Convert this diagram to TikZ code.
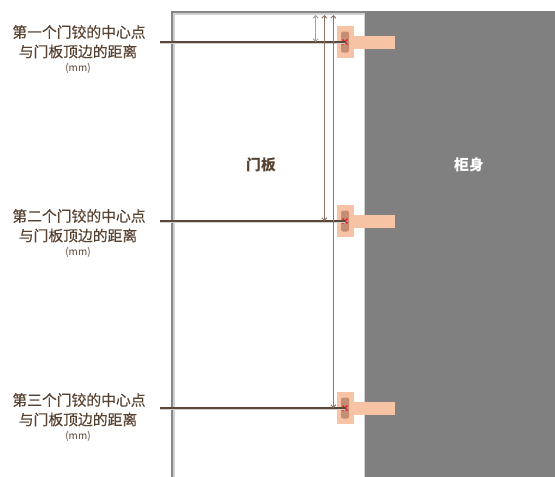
\documentclass[tikz,border=0pt]{standalone}
\usepackage{fontspec}
\setmainfont{Noto Sans CJK SC}
\newfontfamily\lblfont[FakeBold=0.3]{Noto Sans CJK SC}
\usetikzlibrary{arrows.meta}
\definecolor{txt}{HTML}{584332}
\definecolor{cab}{HTML}{808080}
\definecolor{doorgray}{HTML}{868686}
\definecolor{lightgray2}{HTML}{D0D0D0}
\definecolor{peach}{HTML}{F6C4A4}
\definecolor{peachdark}{HTML}{C58E74}
\definecolor{hlbrown}{HTML}{5B4638}
\definecolor{dimbrown}{HTML}{8B7366}
\definecolor{dimlight}{HTML}{ABA098}
\definecolor{redx}{HTML}{E01E1E}
\tikzset{
  lbl/.style={text=txt, inner sep=0pt, font=\lblfont\fontsize{14.8}{16}\selectfont},
  mmlbl/.style={text=txt, inner sep=0pt, font=\fontsize{10}{11}\selectfont},
  hl/.style={draw=hlbrown, line width=1.1pt},
  hlshadow/.style={draw=lightgray2, line width=1pt},
  dimone/.style={draw=dimlight, line width=1pt, {Straight Barb[length=2.5pt,width=5pt]}-{Straight Barb[length=2.5pt,width=5pt]}},
  dimtwo/.style={draw=dimbrown, line width=1pt, {Straight Barb[length=2.5pt,width=5pt]}-{Straight Barb[length=2.5pt,width=5pt]}},
  redmark/.style={draw=redx, line width=1.1pt},
}
\newcommand\myhinge[2]{%
  \fill[peach] (337,#2-16) rectangle (354,#2+16);
  \fill[peach] (354,#2-6.5) rectangle (395,#2+6.5);
  \fill[peachdark, rounded corners=2pt] (341,#2-10.5) rectangle (349,#2+10.5);
  \coordinate (#1) at (345,#2);
  \draw[redmark] (342.5,#2-2.5) -- (347.5,#2+2.5) (342.5,#2+2.5) -- (347.5,#2-2.5);
}
\begin{document}
\begin{tikzpicture}[x=1pt,y=-1pt]
\useasboundingbox (0,0) rectangle (555,477);
\fill[white] (0,0) rectangle (555,477);
% cabinet
\fill[cab] (365,11) rectangle (555,477);
\node[text=white, inner sep=0pt, font=\fontsize{14.8}{16}\selectfont\bfseries] (cabinet) at (469,165) {柜身};
% door
\fill[lightgray2] (172,12) rectangle (175,477);
\fill[lightgray2] (172,12) rectangle (364,14.6);
\fill[lightgray2] (363.6,12) rectangle (365,477);
\fill[doorgray] (171,11) rectangle (173.4,477);
\fill[doorgray] (171,11) rectangle (365,13.3);
\node[text=txt, inner sep=0pt, font=\fontsize{14.8}{16}\selectfont\bfseries] (door) at (261,165) {门板};
% hinges
\myhinge{h1}{42}
\myhinge{h2}{221}
\myhinge{h3}{408}
% label start points
\coordinate (s1) at (160,42);
\coordinate (s2) at (160,221);
\coordinate (s3) at (160,408);
\draw[hlshadow] ([yshift=-1.2pt]s1) -- ([yshift=-1.2pt]h1);
\draw[hlshadow] ([yshift=-1.2pt]s2) -- ([yshift=-1.2pt]h2);
\draw[hlshadow] ([yshift=-1.2pt]s3) -- ([yshift=-1.2pt]h3);
\draw[hl] (s1) -- (h1);
\draw[hl] (s2) -- (h2);
\draw[hl] (s3) -- (h3);
% dimension lines
\coordinate (d1) at (315.7,15);
\coordinate (d2) at (324.3,15);
\coordinate (d3) at (333.3,15);
\draw[dimone] (d1) -- (d1 |- h1);
\draw[dimtwo] (d2) -- (d2 |- h2);
\draw[dimtwo] (d3) -- (d3 |- h3);
% labels
\node[lbl] (a1) at (79,32) {第一个门铰的中心点};
\node[lbl] (b1) at (78,51.5) {与门板顶边的距离};
\node[mmlbl] (c1) at (78,68.5) {(mm)};
\node[lbl] (a2) at (79,216) {第二个门铰的中心点};
\node[lbl] (b2) at (78,235.5) {与门板顶边的距离};
\node[mmlbl] (c2) at (78,252.5) {(mm)};
\node[lbl] (a3) at (79,400) {第三个门铰的中心点};
\node[lbl] (b3) at (78,419.5) {与门板顶边的距离};
\node[mmlbl] (c3) at (78,436.5) {(mm)};
\end{tikzpicture}
\end{document}
